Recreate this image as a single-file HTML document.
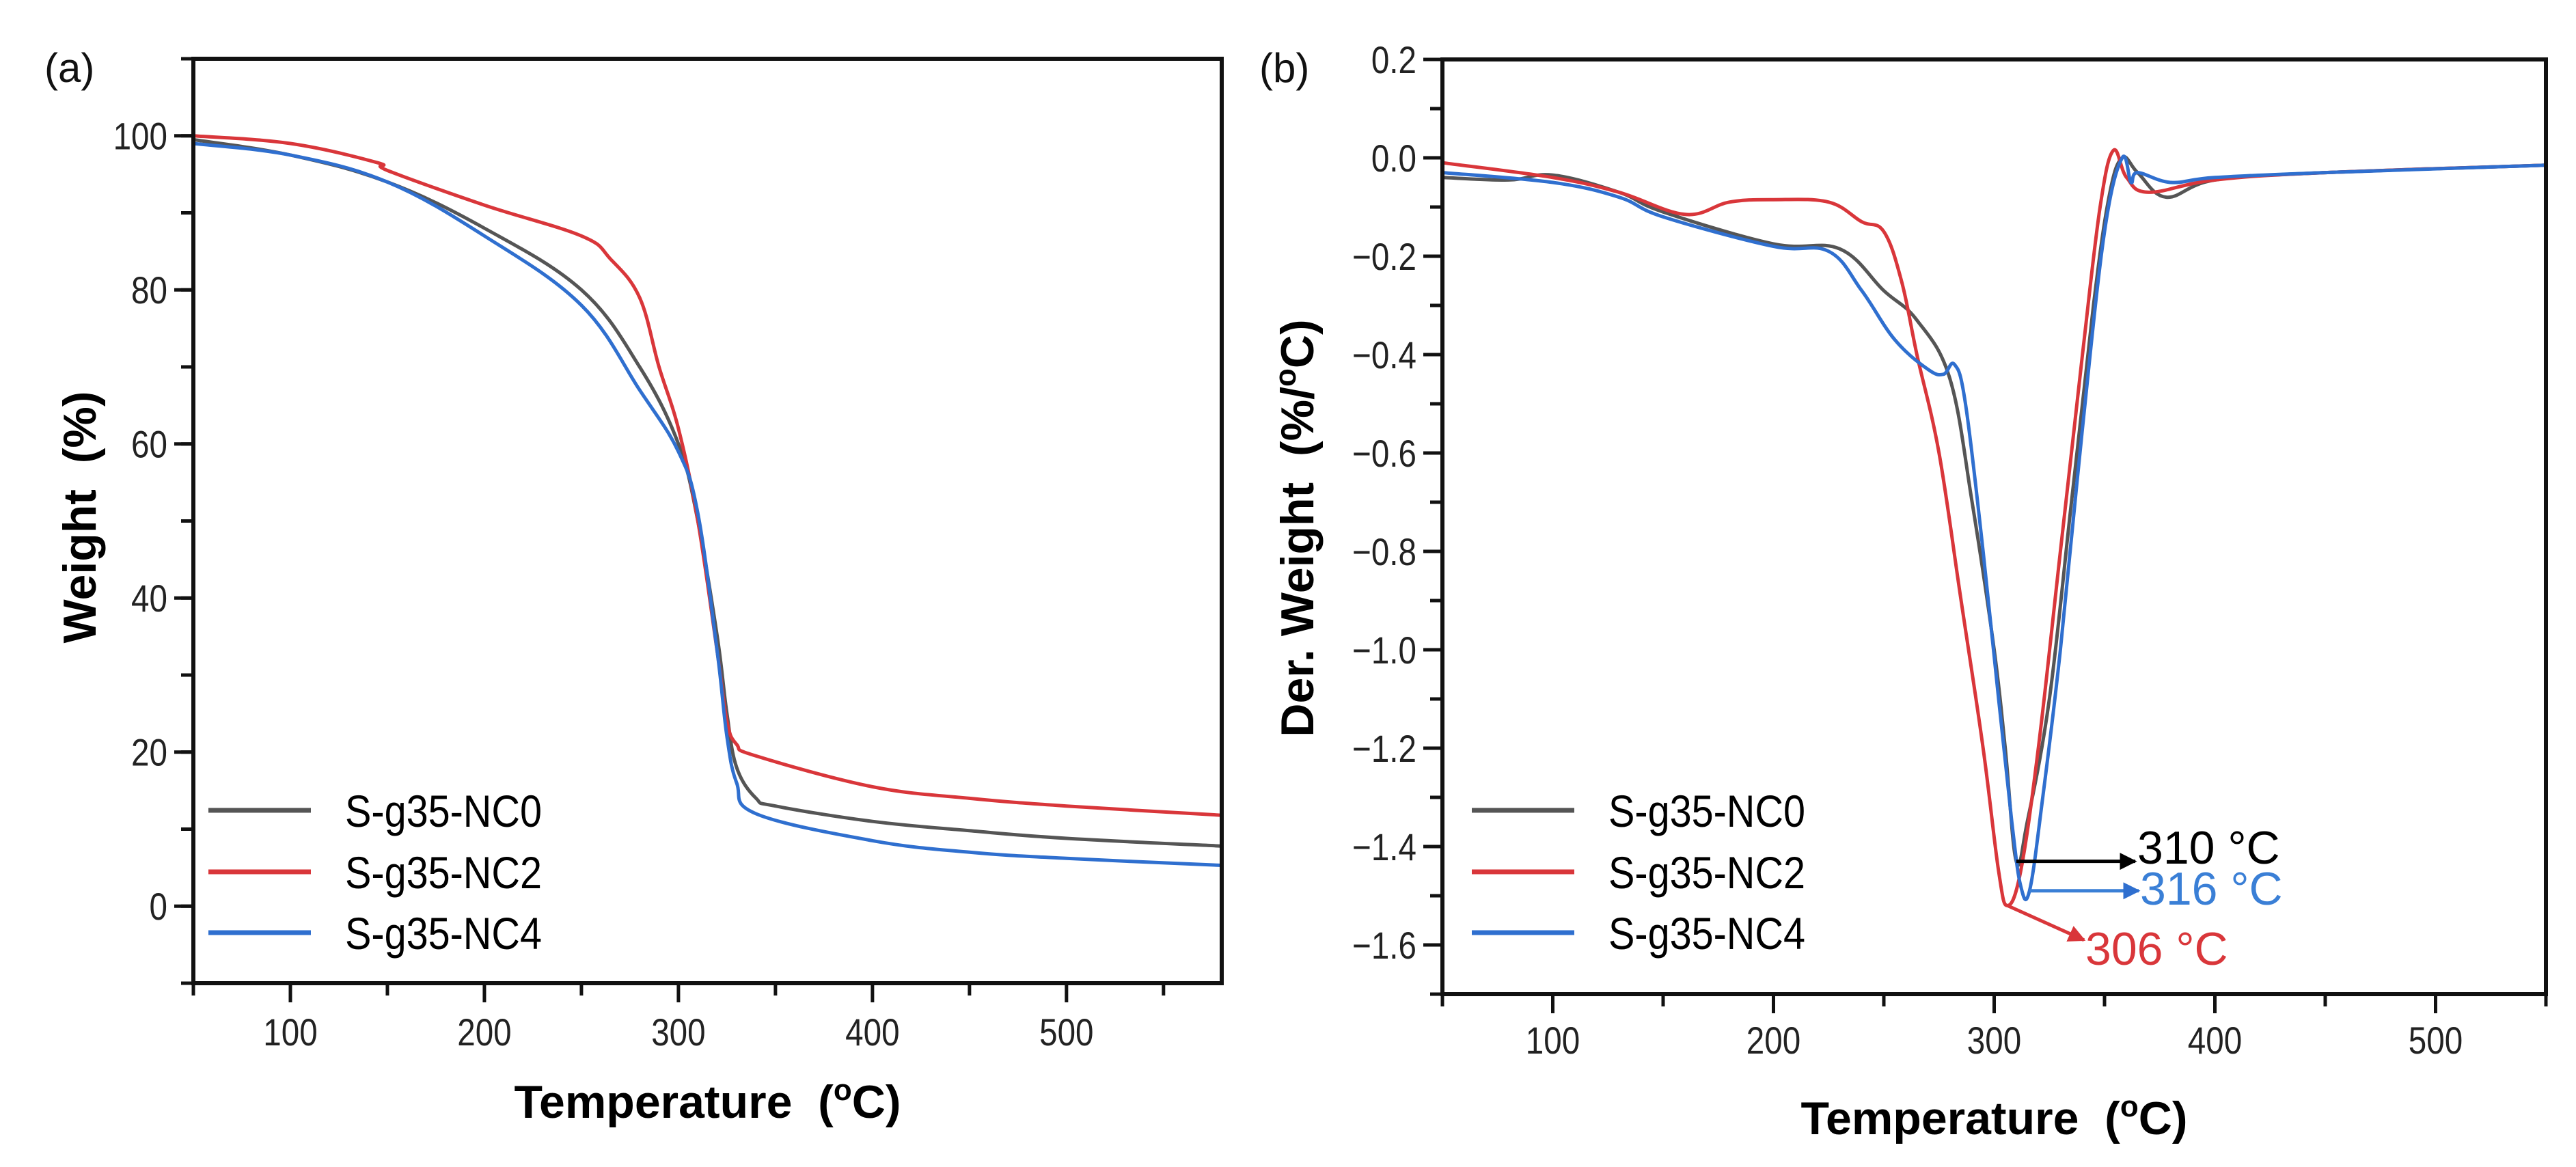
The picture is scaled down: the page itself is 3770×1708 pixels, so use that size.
<!DOCTYPE html>
<html><head><meta charset="utf-8"><style>
html,body{margin:0;padding:0;background:#fff;}
svg{display:block;font-family:"Liberation Sans",sans-serif;}
</style></head><body>
<svg id="fig" width="3770" height="1708" viewBox="0 0 3770 1708"></svg>
<script>
// ---- Panel (a) data: TGA weight ----
const aTemps0 = [50,100,150,200,250,280,300,310,320,325,330,340,350,400,450,500,580];
const aNC0    = [99.5,97.5,94,88,80,70,60,50,35,25,18,14,13,11,9.8,8.8,7.8];
const aTemps2 = [50,100,145,150,200,250,265,280,290,300,310,320,325,330,340,400,450,500,580];
const aNC2    = [100,99,96.5,95.5,91,87,84,79,70,62,50,33,24,21,19.5,15.5,14,13,11.8];
const aTemps4 = [50,100,150,200,250,280,300,310,320,325,330,340,400,450,500,580];
const aNC4    = [99,97.5,94,87,78,67,59,51,33,22,16,12,8.5,7,6.2,5.3];
const aXTicks = [100,200,300,400,500];
const aYTicks = [0,20,40,60,80,100];
// ---- Panel (b) data: DTG ----
const bTemps0 = [50,80,100,130,150,200,230,250,265,280,290,300,305,310,315,325,335,345,352,358,365,378,400,450,550];
const bNC0    = [-0.04,-0.045,-0.035,-0.07,-0.11,-0.175,-0.185,-0.27,-0.33,-0.45,-0.7,-1.0,-1.2,-1.43,-1.35,-1.1,-0.7,-0.3,-0.08,0.0,-0.03,-0.08,-0.045,-0.03,-0.015];
const bTemps2 = [50,100,130,160,180,200,225,240,250,258,265,275,285,295,302,306,312,320,330,340,348,354,360,370,400,450,550];
const bNC2    = [-0.01,-0.04,-0.07,-0.115,-0.09,-0.085,-0.09,-0.13,-0.15,-0.25,-0.4,-0.6,-0.9,-1.2,-1.45,-1.52,-1.45,-1.2,-0.8,-0.4,-0.1,0.015,-0.04,-0.07,-0.045,-0.03,-0.015];
const bTemps4 = [50,100,130,150,200,225,240,255,270,277,282,287,295,302,308,312,316,322,330,340,350,358,362,365,380,400,450,550];
const bNC4    = [-0.03,-0.05,-0.08,-0.12,-0.18,-0.19,-0.27,-0.37,-0.43,-0.44,-0.42,-0.5,-0.8,-1.1,-1.35,-1.48,-1.49,-1.3,-1.0,-0.55,-0.15,0.0,-0.05,-0.03,-0.05,-0.04,-0.03,-0.015];
const bXTicks = [100,200,300,400,500];
const bYTicks = [0.2,0.0,-0.2,-0.4,-0.6,-0.8,-1.0,-1.2,-1.4,-1.6];
const seriesNames = ["S-g35-NC0","S-g35-NC2","S-g35-NC4"];
const peakTemps = [310,316,306];
const peakVals = [-1.43,-1.49,-1.52];

const NS="http://www.w3.org/2000/svg";
const svg=document.getElementById('fig');
function mk(tag,attrs,parent){const e=document.createElementNS(NS,tag);for(const k in attrs)e.setAttribute(k,attrs[k]);(parent||svg).appendChild(e);return e;}
const COLORS=["#555555","#d9363a","#2f6fcf"];

function smoothPath(pts){
  let d='M'+pts[0][0].toFixed(1)+','+pts[0][1].toFixed(1);
  for(let i=0;i<pts.length-1;i++){
    const p0=pts[Math.max(0,i-1)],p1=pts[i],p2=pts[i+1],p3=pts[Math.min(pts.length-1,i+2)];
    const t=0.18;
    const c1=[p1[0]+(p2[0]-p0[0])*t,p1[1]+(p2[1]-p0[1])*t];
    const c2=[p2[0]-(p3[0]-p1[0])*t,p2[1]-(p3[1]-p1[1])*t];
    d+='C'+c1[0].toFixed(1)+','+c1[1].toFixed(1)+' '+c2[0].toFixed(1)+','+c2[1].toFixed(1)+' '+p2[0].toFixed(1)+','+p2[1].toFixed(1);
  }
  return d;
}

function panel(cfg){
  const g=mk('g',{});
  
  
  const X=v=>cfg.x0+(v-cfg.xmin)/(cfg.xmax-cfg.xmin)*(cfg.x1-cfg.x0);
  const Y=v=>cfg.y1-(v-cfg.ymin)/(cfg.ymax-cfg.ymin)*(cfg.y1-cfg.y0);
  cfg.X=X;cfg.Y=Y;
  cfg.series.forEach((s,i)=>{
    const pts=s.t.map((t,j)=>[X(t),Y(s.v[j])]);
    const p=mk('path',{d:smoothPath(pts),fill:'none',stroke:COLORS[i],'stroke-width':5,'stroke-linejoin':'round'},g);
    
    
  });
  const fr=mk('rect',{x:cfg.x0,y:cfg.y0,width:cfg.x1-cfg.x0,height:cfg.y1-cfg.y0,fill:'none',stroke:'#111','stroke-width':6},g);
  
  
  for(let v=cfg.xmin;v<=cfg.xmax+0.001;v+=50){
    const major=cfg.xt.indexOf(v)>=0;
    mk('line',{x1:X(v),x2:X(v),y1:cfg.y1,y2:cfg.y1+(major?28:18),stroke:'#111','stroke-width':5},g);
  }
  cfg.xt.forEach(v=>{
    const t=mk('text',{x:X(v),y:cfg.xly,'text-anchor':'middle','font-size':56,fill:'#222',transform:`translate(${X(v)},0) scale(0.85,1) translate(${-X(v)},0)`},g);
    t.textContent=v;
    
    
  });
  for(let k=0;;k++){
    const v=cfg.ymin+k*cfg.minor; if(v>cfg.ymax+1e-6)break;
    mk('line',{x1:cfg.x0-18,x2:cfg.x0,y1:Y(v),y2:Y(v),stroke:'#111','stroke-width':5},g);
  }
  cfg.yt.forEach(v=>{
    mk('line',{x1:cfg.x0-28,x2:cfg.x0,y1:Y(v),y2:Y(v),stroke:'#111','stroke-width':5},g);
    const t=mk('text',{x:cfg.x0-38,y:Y(v)+20,'text-anchor':'end','font-size':56,fill:'#222',transform:`translate(${cfg.x0-38},0) scale(0.85,1) translate(${-(cfg.x0-38)},0)`},g);
    t.textContent=cfg.fmt(v);
    
    
  });
  const xt=mk('text',{x:(cfg.x0+cfg.x1)/2,y:cfg.xty,'text-anchor':'middle','font-size':68,'font-weight':'bold',fill:'#000'},g);
  xt.innerHTML='Temperature&#160;&#160;(<tspan font-size="44" dy="-26">o</tspan><tspan dy="26">C)</tspan>';
  
  
  const yt=mk('text',{x:0,y:0,'text-anchor':'middle','font-size':68,'font-weight':'bold',fill:'#000',transform:`translate(${cfg.ytx},${cfg.yty}) rotate(-90)`},g);
  yt.innerHTML=cfg.ytitle;
  
  
  const pl=mk('text',{x:cfg.plx,y:120,'font-size':60,fill:'#111'},g);
  pl.textContent=cfg.label;
  
  
  const lg=mk('g',{},g);
  
  
  [1186,1276,1365].forEach((yy,i)=>{
    const e=mk('g',{},lg);
    
    
    mk('line',{x1:cfg.lgx,x2:cfg.lgx+150,y1:yy,y2:yy,stroke:COLORS[i],'stroke-width':7},e);
    const t=mk('text',{x:cfg.lgx+200,y:yy+24,'font-size':66,fill:'#000',textLength:288,lengthAdjust:'spacingAndGlyphs'},e);
    t.textContent=seriesNames[i];
  });
  return g;
}

panel({name:'panel-a-tga',x0:283,x1:1788,y0:86,y1:1439,xmin:50,xmax:580,ymin:-10,ymax:110,minor:10,
  xt:aXTicks,yt:aYTicks,fmt:v=>String(v),xly:1530,xty:1636,ytx:140,yty:757,
  ytitle:'Weight&#160;&#160;(%)',plx:65,label:'(a)',lgx:305,
  series:[{t:aTemps0,v:aNC0},{t:aTemps2,v:aNC2},{t:aTemps4,v:aNC4}]});

const pb={name:'panel-b-dtg',x0:2111,x1:3726,y0:87,y1:1455,xmin:50,xmax:550,ymin:-1.7,ymax:0.2,minor:0.1,
  xt:bXTicks,yt:bYTicks,fmt:v=>(v<0?'\u2212':'')+Math.abs(v).toFixed(1),xly:1542,xty:1660,ytx:1922,yty:773,
  ytitle:'Der. Weight&#160;&#160;(%/<tspan font-size="44" dy="-26">o</tspan><tspan dy="26">C)</tspan>',plx:1843,label:'(b)',lgx:2154,
  series:[{t:bTemps0,v:bNC0},{t:bTemps2,v:bNC2},{t:bTemps4,v:bNC4}]};
panel(pb);

const defs=mk('defs',{});
COLORS.forEach((c,i)=>{
  const m=mk('marker',{id:'ar'+i,viewBox:'0 0 10 10',refX:9,refY:5,markerWidth:5,markerHeight:5,orient:'auto'},defs);
  mk('path',{d:'M0,0L10,5L0,10z',fill:i==0?'#000':c},m);
});
const annColors=['#000','#3a7fd6','#d9363a'];
const annTarget=[[3125,pb.Y(peakVals[0])],[3130,pb.Y(peakVals[1])],[3050,pb.Y(-1.59)]];
const annText=[[3128,1264],[3132,1324],[3052,1412]];
const annIdx=[0,2,1];
peakTemps.forEach((t,i)=>{
  const g=mk('g',{});
  
  
  const ax=pb.X(t), ay=pb.Y(peakVals[i]);
  mk('line',{x1:ax,y1:ay,x2:annTarget[i][0],y2:annTarget[i][1],stroke:annColors[i],'stroke-width':5,'marker-end':'url(#ar'+annIdx[i]+')'},g);
  const tx=mk('text',{x:annText[i][0],y:annText[i][1],'font-size':68,fill:annColors[i]},g);
  tx.textContent=t+' \u00B0C';
});
</script>
</body></html>
